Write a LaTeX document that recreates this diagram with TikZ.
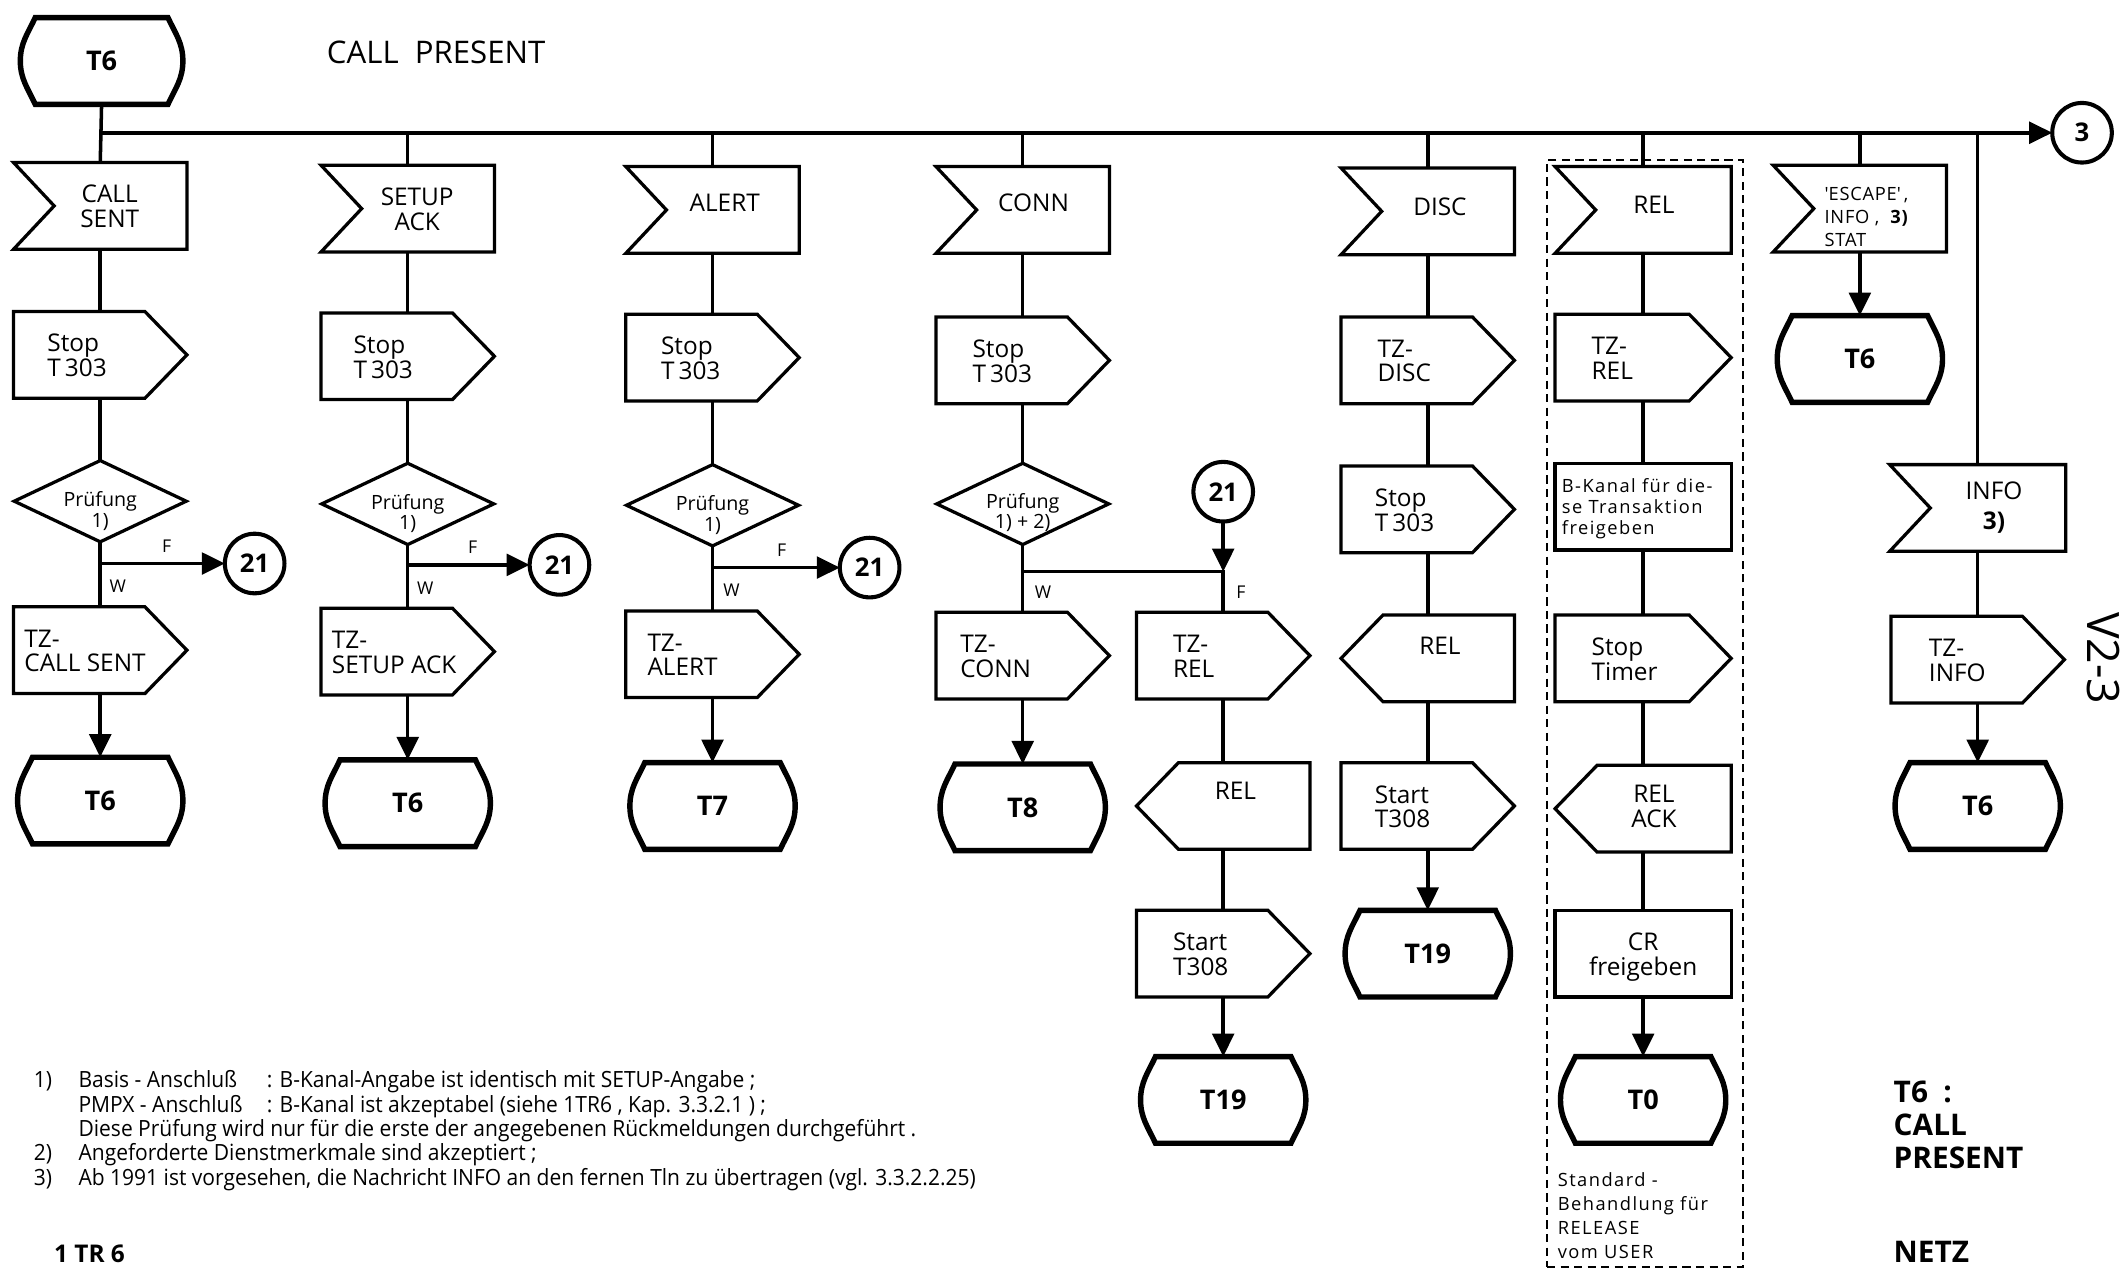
\documentclass[tikz,border=0pt]{standalone}
\usepackage{fontspec}
\setmainfont{Open Sans}
\newfontfamily\fnfont[FakeStretch=0.94]{Open Sans}
\newfontfamily\spfont[LetterSpace=8]{Open Sans}
\newfontfamily\esfont[LetterSpace=4]{Open Sans}
\usetikzlibrary{calc,arrows.meta}
% text block: width, l/c, horizontal shift, raise, lines
\newcommand\tb[5]{\makebox[#1pt][#2]{\hspace*{#3pt}\raisebox{\dimexpr#4pt-.41em\relax}[0pt][0pt]{\begin{tabular}{@{}#2@{}}#5\end{tabular}}}}
\newcommand\fN{\fontsize{18pt}{17.5pt}\selectfont}
\newcommand\fD{\fontsize{14.5pt}{15pt}\selectfont}
\newcommand\fB{\spfont\fontsize{13.5pt}{15.5pt}\selectfont}
\newcommand\fT{\fontsize{20pt}{20pt}\selectfont\bfseries}
\newcommand\fL{\fontsize{13pt}{13pt}\selectfont}
\newcommand\fF{\fnfont\fontsize{16.5pt}{18pt}\selectfont}
\tikzset{
 every node/.style={inner sep=0pt, outer sep=0pt},
 sl/.style={line width=2.4pt, line join=miter},
 ln/.style={line width=2.6pt},
 arr/.style={ln, -{Triangle[length=17pt,width=16pt]}},
 base/.style={font=\fN, minimum width=128pt, minimum height=64pt},
 insh/.style={base, append after command={\pgfextra{\draw[sl] (\tikzlastnode.north west) -- (\tikzlastnode.north east) -- (\tikzlastnode.south east) -- (\tikzlastnode.south west) -- ($(\tikzlastnode.west)+(30,0)$) -- cycle;}}},
 outr/.style={base, append after command={\pgfextra{\draw[sl] (\tikzlastnode.north west) -- ($(\tikzlastnode.north east)+(-31,0)$) -- (\tikzlastnode.east) -- ($(\tikzlastnode.south east)+(-31,0)$) -- (\tikzlastnode.south west) -- cycle;}}},
 outl/.style={base, append after command={\pgfextra{\draw[sl] ($(\tikzlastnode.north west)+(31,0)$) -- (\tikzlastnode.north east) -- (\tikzlastnode.south east) -- ($(\tikzlastnode.south west)+(31,0)$) -- (\tikzlastnode.west) -- cycle;}}},
 dia/.style={base, font=\fD, minimum width=127pt, minimum height=60pt, append after command={\pgfextra{\draw[sl] (\tikzlastnode.north) -- (\tikzlastnode.east) -- (\tikzlastnode.south) -- (\tikzlastnode.west) -- cycle;}}},
 boxx/.style={base, draw, sl},
 term/.style={font=\fT, minimum width=122pt, minimum height=64pt, append after command={\pgfextra{\draw[line width=4pt] ($(\tikzlastnode.north west)+(11,0)$) -- ($(\tikzlastnode.north east)+(-11,0)$) to[out=-65,in=90] (\tikzlastnode.east) to[out=-90,in=65] ($(\tikzlastnode.south east)+(-11,0)$) -- ($(\tikzlastnode.south west)+(11,0)$) to[out=115,in=-90] (\tikzlastnode.west) to[out=90,in=-115] ($(\tikzlastnode.north west)+(11,0)$) -- cycle;}}},
 conn/.style={circle, draw, line width=3pt, minimum size=44pt, font=\fontsize{19pt}{19pt}\selectfont\bfseries},
 lab/.style={font=\fL},
 fn/.style={font=\fF, anchor=base west},
}
\begin{document}
\begin{tikzpicture}[x=1pt,y=1pt]
\useasboundingbox (0,0) rectangle (1568,-938.3);
\node[font=\fontsize{23pt}{23pt}\selectfont] (title) at (322,-39) {CALL~~PRESENT};
\node[term, minimum width=120pt] (t6top) at (75,-45) {T6};
\node[conn] (o3) at (1537,-98) {3};

% column 1
\node[insh] (cs) at (74,-152) {\tb{128}{c}{14}{0}{CALL\\SENT}};
\node[outr] (st1) at (74,-262) {\tb{128}{l}{25}{0}{Stop\\T\hspace{3pt}303}};
\node[dia] (d1) at (74,-370) {\tb{127}{c}{0}{-6}{Prüfung\\1)}};
\node[outr] (tz1) at (74,-480) {\tb{128}{l}{8}{0}{TZ-\\CALL SENT}};
\node[term] (t1) at (74,-591) {T6};
\node[conn] (c1) at (188,-416) {21};
\node[lab] (f1) at (123,-403) {F};
\node[lab] (w1) at (87,-433) {W};

% column 2
\node[insh] (sa) at (301,-154) {\tb{128}{c}{14}{0}{SETUP\\ACK}};
\node[outr] (st2) at (301,-263) {\tb{128}{l}{24}{0}{Stop\\T\hspace{3pt}303}};
\node[dia] (d2) at (301,-372) {\tb{127}{c}{0}{-6}{Prüfung\\1)}};
\node[outr] (tz2) at (301,-481) {\tb{128}{l}{8}{0}{TZ-\\SETUP ACK}};
\node[term] (t2) at (301,-593) {T6};
\node[conn] (c2) at (413,-417) {21};
\node[lab] (f2) at (349,-404) {F};
\node[lab] (w2) at (314,-434) {W};

% column 3
\node[insh] (al) at (526,-155) {\tb{128}{c}{18}{6}{ALERT}};
\node[outr] (st3) at (526,-264) {\tb{128}{l}{26}{0}{Stop\\T\hspace{3pt}303}};
\node[dia] (d3) at (526,-373) {\tb{127}{c}{0}{-6}{Prüfung\\1)}};
\node[outr] (tz3) at (526,-483) {\tb{128}{l}{16}{0}{TZ-\\ALERT}};
\node[term] (t3) at (526,-595) {T7};
\node[conn] (c3) at (642,-419) {21};
\node[lab] (f3) at (577,-406) {F};
\node[lab] (w3) at (540,-436) {W};

% column 4
\node[insh] (cn) at (755,-155) {\tb{128}{c}{16}{6}{CONN}};
\node[outr] (st4) at (755,-266) {\tb{128}{l}{27}{0}{Stop\\T\hspace{3pt}303}};
\node[dia] (d4) at (755,-372) {\tb{127}{c}{0}{-5}{Prüfung\\1) + 2)}};
\node[outr] (tz4) at (755,-484) {\tb{128}{l}{18}{0}{TZ-\\CONN}};
\node[term] (t4) at (755,-596) {T8};
\node[lab] (w4) at (770,-437) {W};
\node[lab] (f4) at (916,-437) {F};
\node[conn] (c4) at (903,-363) {21};
\coordinate (j4) at (903,-422);
\node[outr] (tzr4) at (903,-484) {\tb{128}{l}{27}{0}{TZ-\\REL}};
\node[outl] (rel4) at (903,-595) {\tb{128}{c}{18}{12}{REL}};
\node[outr] (sta4) at (903,-704) {\tb{128}{l}{27}{0}{Start\\T308}};
\node[term] (t19b) at (903,-812) {T19};

% column 5
\node[insh] (ds) at (1054,-156) {\tb{128}{c}{18}{4}{DISC}};
\node[outr] (tzd) at (1054,-266) {\tb{128}{l}{27}{0}{TZ-\\DISC}};
\node[outr] (st5) at (1054,-376) {\tb{128}{l}{25}{0}{Stop\\T\hspace{3pt}303}};
\node[outl] (rel5) at (1054,-486) {\tb{128}{c}{18}{10}{REL}};
\node[outr] (sta5) at (1054,-595) {\tb{128}{l}{25}{0}{Start\\T308}};
\node[term] (t19a) at (1054,-704) {T19};

% column 6 (dashed group)
\node[draw, dashed, line width=1.4pt, dash pattern=on 6pt off 4pt, minimum width=145pt, minimum height=817pt] (grp) at (1214.5,-526.5) {};
\node[insh, minimum width=130pt] (rl) at (1213,-155) {\tb{130}{c}{16}{4}{REL}};
\node[outr, minimum width=130pt] (tzr6) at (1213,-264) {\tb{130}{l}{27}{0}{TZ-\\REL}};
\node[boxx, minimum width=130pt, font=\fB] (bk) at (1213,-374) {\tb{130}{l}{5}{0}{B-Kanal für die-\\se Transaktion\\freigeben}};
\node[outr, minimum width=130pt] (stt) at (1213,-486) {\tb{130}{l}{27}{0}{Stop\\Timer}};
\node[outl, minimum width=130pt] (ra) at (1213,-597) {\tb{130}{c}{16}{2}{REL\\ACK}};
\node[boxx, minimum width=130pt] (cr) at (1213,-704) {\tb{130}{c}{0}{0}{CR\\freigeben}};
\node[term] (t0) at (1213,-812) {T0};
\node[anchor=north west, align=left, font=\fB\fontsize{13.5pt}{17.7pt}\selectfont] (std) at (1150,-866) {Standard -\\Behandlung für\\RELEASE\\vom USER};

% column 7
\node[insh, font=\esfont\fontsize{13.5pt}{17pt}\selectfont] (es) at (1373,-154) {\tb{128}{l}{38}{-6}{\textquotesingle ESCAPE\textquotesingle\,,\\INFO ,\ \ \textbf{3)}\\STAT}};
\node[term] (t6e) at (1373,-265) {T6};

% column 8
\node[insh, minimum width=130pt] (in8) at (1460,-375) {\tb{130}{c}{24}{2}{INFO\\[4pt]\textbf{3)}}};
\node[outr] (tzi) at (1460,-487) {\tb{128}{l}{28}{0}{TZ-\\INFO}};
\node[term] (t6i) at (1460,-595) {T6};

% main line
\draw[ln] (t6top.south) -- (cs.north);
\draw[arr] (t6top.south |- o3) -- (o3);
\foreach \n in {sa,al,cn,ds,rl,es,in8} \draw[ln] (\n.north |- o3) -- (\n.north);

% connectors
\draw[ln] (cs.south) -- (st1.north);
\draw[ln] (st1.south) -- (d1.north);
\draw[ln] (d1.south) -- (tz1.north);
\draw[arr] (d1.south |- c1) -- (c1);
\draw[arr] (tz1.south) -- (t1.north);

\draw[ln] (sa.south) -- (st2.north);
\draw[ln] (st2.south) -- (d2.north);
\draw[ln] (d2.south) -- (tz2.north);
\draw[arr] (d2.south |- c2) -- (c2);
\draw[arr] (tz2.south) -- (t2.north);

\draw[ln] (al.south) -- (st3.north);
\draw[ln] (st3.south) -- (d3.north);
\draw[ln] (d3.south) -- (tz3.north);
\draw[arr] (d3.south |- c3) -- (c3);
\draw[arr] (tz3.south) -- (t3.north);

\draw[ln] (cn.south) -- (st4.north);
\draw[ln] (st4.south) -- (d4.north);
\draw[ln] (d4.south) -- (tz4.north);
\draw[arr] (tz4.south) -- (t4.north);
\draw[ln] (d4.south |- j4) -- (j4) -- (tzr4.north);
\draw[arr] (c4.south) -- (j4);
\draw[ln] (tzr4.south) -- (rel4.north);
\draw[ln] (rel4.south) -- (sta4.north);
\draw[arr] (sta4.south) -- (t19b.north);

\draw[ln] (ds.south) -- (tzd.north);
\draw[ln] (tzd.south) -- (st5.north);
\draw[ln] (st5.south) -- (rel5.north);
\draw[ln] (rel5.south) -- (sta5.north);
\draw[arr] (sta5.south) -- (t19a.north);

\draw[ln] (rl.south) -- (tzr6.north);
\draw[ln] (tzr6.south) -- (bk.north);
\draw[ln] (bk.south) -- (stt.north);
\draw[ln] (stt.south) -- (ra.north);
\draw[ln] (ra.south) -- (cr.north);
\draw[arr] (cr.south) -- (t0.north);

\draw[arr] (es.south) -- (t6e.north);

\draw[ln] (in8.south) -- (tzi.north);
\draw[arr] (tzi.south) -- (t6i.north);

% footnotes
\node[fn] (fn1n) at (25,-803) {1)};
\node[fn] (fn1a) at (58,-803) {Basis - Anschluß};
\node[fn] (fn1b) at (197,-803) {: B-Kanal-Angabe ist identisch mit SETUP-Angabe ;};
\node[fn] (fn2a) at (58,-821) {PMPX - Anschluß};
\node[fn] (fn2b) at (197,-821) {: B-Kanal ist akzeptabel (siehe 1TR6 , Kap. 3.3.2.1 ) ;};
\node[fn] (fn3) at (58,-839) {Diese Prüfung wird nur für die erste der angegebenen Rückmeldungen durchgeführt .};
\node[fn] (fn4n) at (25,-857) {2)};
\node[fn] (fn4) at (58,-857) {Angeforderte Dienstmerkmale sind akzeptiert ;};
\node[fn] (fn5n) at (25,-875) {3)};
\node[fn] (fn5) at (58,-875) {Ab 1991 ist vorgesehen, die Nachricht INFO an den fernen Tln zu übertragen (vgl. 3.3.2.2.25)};

\node[anchor=base west, font=\fontsize{18pt}{18pt}\selectfont\bfseries] (tr6) at (40,-932) {1 TR 6};
\node[anchor=north west, align=left, font=\fontsize{22pt}{24.5pt}\selectfont\bfseries] (lg) at (1398,-798) {T6~~:\\CALL\\PRESENT};
\node[anchor=base west, font=\fontsize{22pt}{22pt}\selectfont\bfseries] (netz) at (1398,-932) {NETZ};
\node[rotate=-90, anchor=base west, font=\fontsize{33pt}{33pt}\selectfont] (v23) at (1541,-452) {V2-3};
\end{tikzpicture}
\end{document}
